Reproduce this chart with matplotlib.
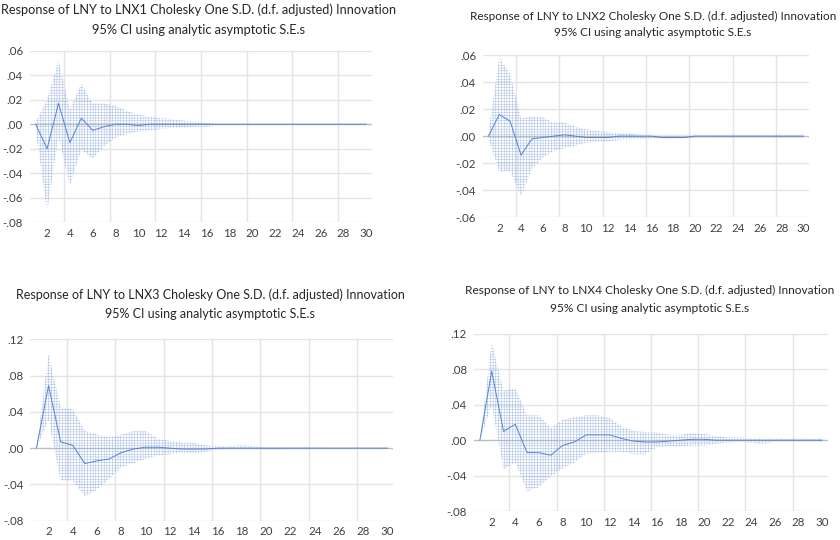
import matplotlib
matplotlib.use("Agg")
import matplotlib.pyplot as plt
from matplotlib.ticker import FixedLocator, FuncFormatter

plt.rcParams['font.family'] = ['Lato', 'DejaVu Sans']
plt.rcParams['hatch.linewidth'] = 0.3

periods = list(range(1, 31))

# LNX1 shock
resp1 = [0.000, -0.020, 0.017, -0.015, 0.005, -0.005, -0.002, 0.000, 0.000, -0.001,
         0.000, 0.000, 0.000, 0.000, 0.000, 0.000, 0.000, 0.000, 0.000, 0.000,
         0.000, 0.000, 0.000, 0.000, 0.000, 0.000, 0.000, 0.000, 0.000, 0.000]
up1 = [0.002, 0.020, 0.052, 0.012, 0.033, 0.017, 0.017, 0.015, 0.011, 0.008,
       0.006, 0.005, 0.004, 0.003, 0.002, 0.001, 0.000, 0.000, 0.000, 0.000,
       0.000, 0.000, 0.000, 0.000, 0.000, 0.000, 0.000, 0.000, 0.000, 0.000]
lo1 = [-0.005, -0.071, -0.010, -0.050, -0.021, -0.028, -0.018, -0.011, -0.008, -0.006,
       -0.005, -0.004, -0.003, -0.003, -0.002, -0.002, -0.001, 0.000, 0.000, 0.000,
       0.000, 0.000, 0.000, 0.000, 0.000, 0.000, 0.000, 0.000, 0.000, 0.000]

# LNX2 shock
resp2 = [0.000, 0.016, 0.011, -0.014, -0.002, -0.001, 0.000, 0.001, 0.000, -0.001,
         -0.001, -0.001, 0.000, 0.000, 0.000, 0.000, -0.001, -0.001, -0.001, 0.000,
         0.000, 0.000, 0.000, 0.000, 0.000, 0.000, 0.000, 0.000, 0.000, 0.000]
up2 = [0.003, 0.058, 0.046, 0.013, 0.015, 0.014, 0.010, 0.010, 0.007, 0.005,
       0.004, 0.003, 0.002, 0.002, 0.001, 0.001, 0.001, 0.001, 0.001, 0.001,
       0.001, 0.001, 0.001, 0.001, 0.001, 0.001, 0.001, 0.001, 0.001, 0.001]
lo2 = [-0.002, -0.026, -0.026, -0.044, -0.024, -0.016, -0.011, -0.009, -0.007, -0.005,
       -0.004, -0.004, -0.003, -0.002, -0.002, -0.002, -0.002, -0.002, -0.002, -0.001,
       -0.001, -0.001, -0.001, -0.001, -0.001, -0.001, -0.001, -0.001, -0.001, -0.001]

# LNX3 shock
resp3 = [0.000, 0.069, 0.007, 0.003, -0.017, -0.014, -0.012, -0.005, -0.001, 0.001,
         0.001, 0.000, -0.001, -0.001, -0.001, 0.000, 0.000, 0.000, 0.000, 0.000,
         0.000, 0.000, 0.000, 0.000, 0.000, 0.000, 0.000, 0.000, 0.000, 0.000]
up3 = [0.000, 0.104, 0.045, 0.043, 0.019, 0.015, 0.012, 0.015, 0.019, 0.019,
       0.011, 0.008, 0.006, 0.006, 0.003, 0.002, 0.002, 0.003, 0.002, 0.001,
       0.001, 0.001, 0.001, 0.001, 0.000, 0.000, 0.000, 0.000, 0.000, 0.000]
lo3 = [0.000, 0.031, -0.036, -0.036, -0.053, -0.046, -0.034, -0.021, -0.017, -0.012,
       -0.008, -0.007, -0.005, -0.006, -0.004, -0.002, -0.001, -0.001, -0.001, -0.002,
       -0.002, -0.001, -0.001, 0.000, 0.000, 0.000, 0.000, 0.000, 0.000, 0.000]

# LNX4 shock
resp4 = [0.000, 0.078, 0.010, 0.018, -0.014, -0.014, -0.017, -0.006, -0.002, 0.006,
         0.006, 0.006, 0.002, -0.001, -0.002, -0.002, -0.001, 0.000, 0.001, 0.001,
         0.000, 0.000, 0.000, 0.000, 0.000, 0.000, 0.000, 0.000, 0.000, 0.000]
up4 = [0.000, 0.111, 0.056, 0.059, 0.028, 0.028, 0.014, 0.023, 0.026, 0.028,
       0.028, 0.025, 0.015, 0.011, 0.009, 0.009, 0.006, 0.006, 0.008, 0.007,
       0.005, 0.003, 0.003, 0.002, 0.002, 0.002, 0.002, 0.002, 0.002, 0.002]
lo4 = [0.000, 0.040, -0.033, -0.025, -0.058, -0.053, -0.041, -0.032, -0.025, -0.015,
       -0.015, -0.013, -0.013, -0.016, -0.016, -0.008, -0.007, -0.007, -0.006, -0.006,
       -0.004, -0.003, -0.002, -0.003, -0.004, -0.002, -0.002, -0.002, -0.002, -0.002]

titles = ["Response of LNY to LNX1 Cholesky One S.D. (d.f. adjusted) Innovation",
          "Response of LNY to LNX2 Cholesky One S.D. (d.f. adjusted) Innovation",
          "Response of LNY to LNX3 Cholesky One S.D. (d.f. adjusted) Innovation",
          "Response of LNY to LNX4 Cholesky One S.D. (d.f. adjusted) Innovation"]
subtitle = "95% CI using analytic asymptotic S.E.s"

W, H = 840, 540
fig = plt.figure(figsize=(8.4, 5.4), dpi=100)

# pixel boxes: left, right, top, bottom of plot area
boxes = [(30, 372, 50.7, 222.3), (483, 809, 55, 217.3),
         (30.4, 393.4, 339.3, 520.7), (474, 828, 334, 511)]
ylims = [(-0.08, 0.06), (-0.06, 0.06), (-0.08, 0.12), (-0.08, 0.12)]
ysteps = [0.02, 0.02, 0.04, 0.04]
# title centres (x, y line1, y line2) and font size
tpos = [(199, 10, 30, 9.2), (653, 16, 33, 8.5), (210, 295, 314, 9.0), (650, 290, 309, 8.6)]

data = [(resp1, up1, lo1), (resp2, up2, lo2), (resp3, up3, lo3), (resp4, up4, lo4)]

fmt = FuncFormatter(lambda v, p: ("-" if v < -1e-9 else "") + ("%.2f" % abs(v))[1:])

for i in range(4):
    l, r, t, b = boxes[i]
    ax = fig.add_axes([l / W, 1 - b / H, (r - l) / W, (b - t) / H])
    resp, up, lo = data[i]
    ax.fill_between(periods, lo, up, facecolor='none', edgecolor='#9db6e2',
                    hatch='++++++', linewidth=0, zorder=2)
    ax.axhline(0, color='#bfbfbf', lw=1.0, zorder=1)
    ax.plot(periods, resp, color='#5583cf', lw=0.7, zorder=3)
    lo_y, hi_y = ylims[i]
    ax.set_xlim(0.5, 30.5)
    ax.set_ylim(lo_y, hi_y)
    n = int(round((hi_y - lo_y) / ysteps[i]))
    yt = [lo_y + k * ysteps[i] for k in range(n + 1)]
    ax.yaxis.set_major_locator(FixedLocator(yt))
    ax.yaxis.set_major_formatter(fmt)
    ax.set_xticks(range(2, 31, 2))
    for k in [3.5 + 4 * j for j in range(7)]:
        ax.axvline(k, color='#e4e4e4', lw=1.0, zorder=0)
    for v in yt:
        if abs(v) > 1e-9:
            ax.axhline(v, color='#e4e4e4', lw=1.0, zorder=0)
    for s in ax.spines.values():
        s.set_visible(False)
    ax.tick_params(length=0, labelsize=8.3, colors='#404040', pad=4)
    ax.tick_params(axis='y', pad=5)
    tx, ty1, ty2, fs = tpos[i]
    fig.text(tx / W, 1 - ty1 / H, titles[i], ha='center', va='center',
             fontsize=fs, color='#262626')
    fig.text(tx / W, 1 - ty2 / H, subtitle, ha='center', va='center',
             fontsize=fs, color='#262626')

fig.savefig("out.png", dpi=100)
